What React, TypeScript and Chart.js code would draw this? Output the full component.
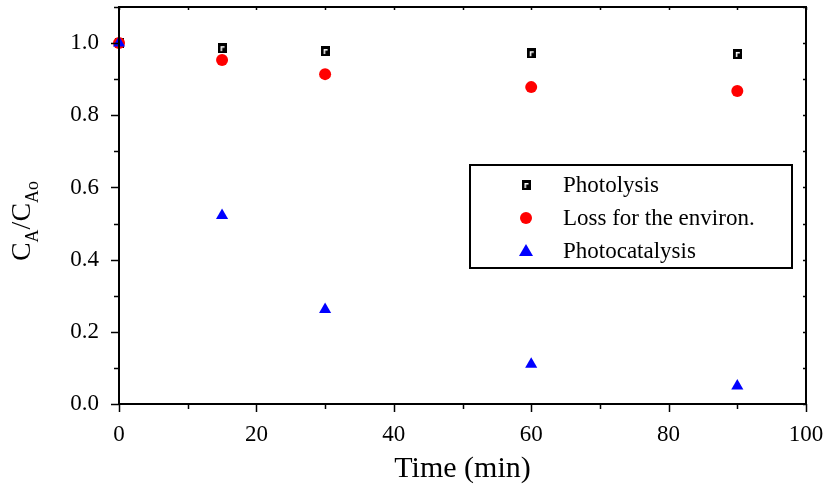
import React, { useEffect, useRef } from "react";
import { Chart, registerables } from "chart.js";

Chart.register(...registerables);

const times = [0, 15, 30, 60, 90];
const photolysis = [1.0, 0.986, 0.978, 0.972, 0.97];
const lossEnviron = [1.0, 0.953, 0.914, 0.878, 0.867];
const photocatalysis = [1.0, 0.522, 0.262, 0.11, 0.05];
const seriesLabels = ["Photolysis", "Loss for the environ.", "Photocatalysis"];
const yTickValues = [0, 0.1, 0.2, 0.3, 0.4, 0.5, 0.6, 0.7, 0.8, 0.9, 1.0, 1.1];
const xTickValues = [0, 10, 20, 30, 40, 50, 60, 70, 80, 90, 100];

const FONT = "'Liberation Serif', 'Times New Roman', serif";

function makeSquareMarker(): HTMLCanvasElement {
  const c = document.createElement("canvas");
  c.width = 9;
  c.height = 10;
  const g = c.getContext("2d")!;
  g.fillStyle = "#000";
  g.fillRect(0, 0, 9, 10);
  g.fillStyle = "#fff";
  g.fillRect(3, 3, 4, 1.5);
  g.fillRect(3, 3, 1.5, 5);
  return c;
}

const framePlugin = {
  id: "frame",
  afterDraw(chart: any) {
    const { ctx, chartArea } = chart;
    const { left, right, top, bottom } = chartArea;
    const xs = chart.scales.x;
    const ys = chart.scales.y;
    ctx.save();
    ctx.strokeStyle = "#000";
    ctx.lineWidth = 2;
    ctx.strokeRect(left, top, right - left, bottom - top);
    ctx.lineWidth = 1.5;
    yTickValues.forEach((v, i) => {
      const y = Math.round(ys.getPixelForValue(v)) + 0.5;
      const major = i % 2 === 0;
      ctx.beginPath();
      ctx.moveTo(left, y);
      ctx.lineTo(left - (major ? 8 : 5), y);
      ctx.stroke();
      ctx.beginPath();
      ctx.moveTo(right, y);
      ctx.lineTo(right - 3, y);
      ctx.stroke();
    });
    xTickValues.forEach((v, i) => {
      const x = Math.round(xs.getPixelForValue(v)) + 0.5;
      const major = i % 2 === 0;
      ctx.beginPath();
      ctx.moveTo(x, bottom);
      ctx.lineTo(x, bottom + (major ? 8 : 5));
      ctx.stroke();
      ctx.beginPath();
      ctx.moveTo(x, top);
      ctx.lineTo(x, top + 3);
      ctx.stroke();
    });

    ctx.translate(30, 221);
    ctx.rotate(-Math.PI / 2);
    ctx.fillStyle = "#000";
    ctx.textBaseline = "alphabetic";
    ctx.textAlign = "left";
    const big = `28px ${FONT}`;
    const small = `18px ${FONT}`;
    const parts: [string, string, number][] = [
      ["C", big, 0],
      ["A", small, 8],
      ["/C", big, 0],
      ["Ao", small, 8],
    ];
    let total = 0;
    parts.forEach(([t, f]) => {
      ctx.font = f;
      total += ctx.measureText(t).width;
    });
    let cx = -total / 2;
    parts.forEach(([t, f, dy]) => {
      ctx.font = f;
      ctx.fillText(t, cx, dy);
      cx += ctx.measureText(t).width;
    });
    ctx.restore();

    ctx.save();
    const bx = 470, by = 165, bw = 322, bh = 103;
    ctx.fillStyle = "#fff";
    ctx.fillRect(bx, by, bw, bh);
    ctx.strokeStyle = "#000";
    ctx.lineWidth = 2;
    ctx.strokeRect(bx, by, bw, bh);
    const rows = [185, 218, 251];
    ctx.font = `23px ${FONT}`;
    ctx.textBaseline = "middle";
    ctx.textAlign = "left";
    chart.data.datasets.forEach((ds: any, i: number) => {
      const my = rows[i];
      const mx = 526;
      const ps = ds.pointStyle;
      if (ps instanceof HTMLCanvasElement) {
        ctx.drawImage(ps, mx - ps.width / 2, my - ps.height / 2);
      } else if (ps === "circle") {
        ctx.fillStyle = ds.pointBackgroundColor;
        ctx.beginPath();
        ctx.arc(mx, my, 6, 0, Math.PI * 2);
        ctx.fill();
      } else if (ps === "triangle") {
        ctx.fillStyle = ds.pointBackgroundColor;
        ctx.beginPath();
        ctx.moveTo(mx, my - 7);
        ctx.lineTo(mx + 7, my + 5);
        ctx.lineTo(mx - 7, my + 5);
        ctx.closePath();
        ctx.fill();
      }
      ctx.fillStyle = "#000";
      ctx.fillText(ds.label, 563, my + 1);
    });
    ctx.restore();
  },
};

export default function App() {
  const ref = useRef<HTMLCanvasElement>(null);
  useEffect(() => {
    document.body.style.margin = "0";
    const sq = makeSquareMarker();
    const chart = new Chart(ref.current!, {
      type: "scatter",
      data: {
        datasets: [
          {
            label: seriesLabels[0],
            data: times.map((t, i) => ({ x: t, y: photolysis[i] })),
            pointStyle: sq as any,
            pointBackgroundColor: "#000",
            borderColor: "#000",
            clip: false as any,
            order: 3,
          },
          {
            label: seriesLabels[1],
            data: times.map((t, i) => ({ x: t, y: lossEnviron[i] })),
            pointStyle: "circle",
            pointRadius: 6,
            pointBackgroundColor: "#ff0000",
            pointBorderColor: "#ff0000",
            pointBorderWidth: 0,
            clip: false as any,
            order: 2,
          },
          {
            label: seriesLabels[2],
            data: times.map((t, i) => ({ x: t, y: photocatalysis[i] })),
            pointStyle: "triangle",
            pointRadius: 7,
            pointBackgroundColor: "#0000ff",
            pointBorderColor: "#0000ff",
            pointBorderWidth: 0,
            clip: false as any,
            order: 1,
          },
        ],
      },
      options: {
        animation: false,
        responsive: false,
        devicePixelRatio: 1,
        layout: { padding: { top: 6, right: 17, left: 0, bottom: 0 } },
        plugins: { legend: { display: false }, tooltip: { enabled: false } },
        scales: {
          x: {
            type: "linear",
            min: 0,
            max: 100,
            afterBuildTicks: (s: any) => {
              s.ticks = xTickValues.filter((_, i) => i % 2 === 0).map((v) => ({ value: v }));
            },
            afterFit: (s: any) => {
              s.height = 80;
              s.paddingLeft = 0;
              s.paddingRight = 0;
            },
            grid: { display: false },
            border: { display: false },
            ticks: {
              color: "#000",
              font: { family: FONT, size: 23 },
              padding: 9,
              maxRotation: 0,
              callback: (v: any) => String(v),
            },
            title: {
              display: true,
              text: "Time (min)",
              color: "#000",
              font: { family: FONT, size: 30 },
              padding: { top: 0, bottom: -3 },
            },
          },
          y: {
            type: "linear",
            min: 0,
            max: 1.1,
            afterBuildTicks: (s: any) => {
              s.ticks = yTickValues.filter((_, i) => i % 2 === 0).map((v) => ({ value: v }));
            },
            afterFit: (s: any) => {
              s.width = 119;
              s.paddingTop = 0;
              s.paddingBottom = 0;
            },
            grid: { display: false },
            border: { display: false },
            ticks: {
              color: "#000",
              font: { family: FONT, size: 23 },
              padding: 12,
              callback: (v: any) => Number(v).toFixed(1),
            },
          },
        },
      },
      plugins: [framePlugin],
    });
    return () => chart.destroy();
  }, []);
  return (
    <div style={{ width: 823, height: 484 }}>
      <canvas ref={ref} width={823} height={484} />
    </div>
  );
}
